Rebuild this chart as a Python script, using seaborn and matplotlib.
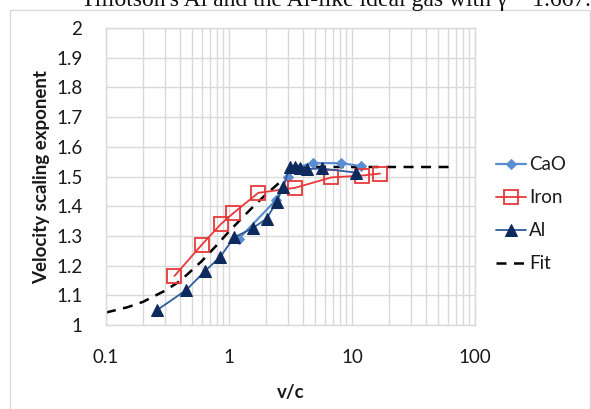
import numpy as np
import pandas as pd
import matplotlib
matplotlib.use("Agg")
import matplotlib.pyplot as plt
import seaborn as sns
from matplotlib.patches import Rectangle
from matplotlib.ticker import LogLocator, FixedLocator, NullFormatter, FuncFormatter

# DATA

cao_x = [1.2, 2.4, 3.0, 3.5, 4.8, 8.2, 11.8]
cao_y = [1.29, 1.42, 1.50, 1.53, 1.545, 1.545, 1.535]

iron_x = [0.36, 0.60, 0.86, 1.08, 1.73, 3.45, 6.8, 12.0, 16.9]
iron_y = [1.165, 1.27, 1.34, 1.376, 1.445, 1.462, 1.497, 1.503, 1.51]

al_x = [0.26, 0.45, 0.64, 0.85, 1.10, 1.56, 2.02, 2.44, 2.76, 3.13, 3.44, 3.78, 4.28, 5.68, 10.8]
al_y = [1.05, 1.118, 1.182, 1.23, 1.295, 1.326, 1.358, 1.415, 1.466, 1.533, 1.533, 1.53, 1.525, 1.527, 1.513]

fit_x = [0.1, 0.15, 0.2, 0.3, 0.4, 0.6, 0.8, 1.0, 1.5, 2.0, 2.5, 3.0, 3.5, 4.0, 5.0, 10, 20, 65]
fit_y = [1.042, 1.06, 1.078, 1.115, 1.148, 1.215, 1.27, 1.315, 1.39, 1.44, 1.475, 1.505, 1.522, 1.53, 1.532, 1.532, 1.532, 1.532]

y_ticks = [1, 1.1, 1.2, 1.3, 1.4, 1.5, 1.6, 1.7, 1.8, 1.9, 2]
x_ticks = [0.1, 1, 10, 100]

# STYLE

sns.set_style("white")
plt.rcParams['font.family'] = ['Lato', 'DejaVu Sans']

grid_col = '#d9d9d9'
txt_col = '#1a1a1a'

fig = plt.figure(figsize=(5.91, 4.09), dpi=100)
ax = fig.add_axes([106/591, 1 - 325/409, (475 - 106)/591, (325 - 28)/409])

# PLOT

sns.lineplot(x=cao_x, y=cao_y, ax=ax, color='#5a8ed0', lw=1.6, marker='D', markersize=5.5,
             markeredgecolor='#5a8ed0', label='CaO', estimator=None, sort=False, zorder=3)
sns.lineplot(x=iron_x, y=iron_y, ax=ax, color='#e8383a', lw=1.3, marker='s', markersize=10,
             markerfacecolor='none', markeredgecolor='#e8383a', markeredgewidth=1.3,
             label='Iron', estimator=None, sort=False, zorder=3)
sns.lineplot(x=al_x, y=al_y, ax=ax, color='#2f5c9e', lw=1.3, marker='^', markersize=8.5,
             markerfacecolor='#0e2a5c', markeredgecolor='#0e2a5c',
             label='Al', estimator=None, sort=False, zorder=4)
sns.lineplot(x=fit_x, y=fit_y, ax=ax, color='black', lw=1.8,
             label='Fit', estimator=None, sort=False, zorder=2)
ax.lines[-1].set_linestyle((0, (4, 3)))

# AXES

ax.set_xscale('log')
ax.set_xlim(0.1, 100)
ax.set_ylim(1, 2)
ax.xaxis.set_major_locator(FixedLocator(x_ticks))
ax.xaxis.set_major_formatter(FuncFormatter(lambda v, p: f"{v:g}"))
ax.xaxis.set_minor_locator(LogLocator(base=10, subs=np.arange(2, 10)))
ax.xaxis.set_minor_formatter(NullFormatter())
ax.yaxis.set_major_locator(FixedLocator(y_ticks))
ax.yaxis.set_major_formatter(FuncFormatter(lambda v, p: f"{v:g}"))

ax.grid(which='major', color=grid_col, lw=1)
ax.grid(which='minor', axis='x', color=grid_col, lw=1)
ax.set_axisbelow(True)
for s in ax.spines.values():
    s.set_color(grid_col)
    s.set_linewidth(1)

ax.tick_params(axis='x', which='major', direction='out', length=5, width=1, color=grid_col,
               pad=12, labelsize=13.5, labelcolor=txt_col)
ax.tick_params(axis='x', which='minor', length=0)
ax.tick_params(axis='y', direction='out', length=6, width=1, color=grid_col,
               pad=11, labelsize=13.5, labelcolor=txt_col)

ax.set_xlabel('v/c', fontsize=13.5, fontweight='bold', color=txt_col, labelpad=13)
ax.set_ylabel('Velocity scaling exponent', fontsize=13.5, fontweight='bold', color=txt_col, labelpad=4)

leg = ax.legend(loc='upper left', bbox_to_anchor=(487/591, 1 - 147/409),
                bbox_transform=fig.transFigure, frameon=False, fontsize=13.5,
                handlelength=1.6, handletextpad=0.15, labelspacing=0.85, borderpad=0)
for t in leg.get_texts():
    t.set_color(txt_col)

# page frame and cut-off caption from the source document
fig.patches.append(Rectangle((10/591, -0.05), 580/591, 1.05 - 10/409, transform=fig.transFigure,
                             fill=False, edgecolor=grid_col, lw=1))
fig.text(81/591, 1 - 6/409, "Tillotson's Al and the Al-like ideal gas with \u03b3 = 1.667.",
         family=['Liberation Serif', 'DejaVu Serif'], fontsize=17, va='baseline', ha='left',
         color='#111111')

fig.savefig('out.png', dpi=100)
